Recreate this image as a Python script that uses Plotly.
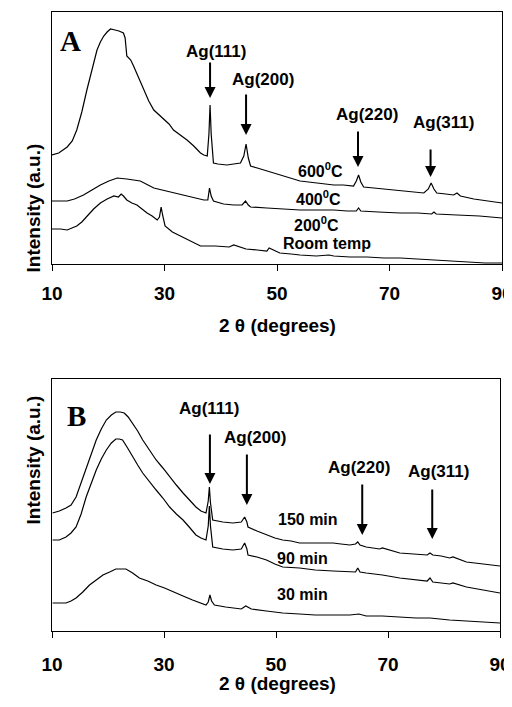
import plotly.graph_objects as go

# ---------------- Panel A data (2theta, intensity a.u.) ----------------
a600_x = [10, 11.2, 12.7, 13.6, 14.4, 15.3, 16.2, 17.1, 18.0, 18.6, 19.2, 19.8, 20.4, 21.2, 21.9, 22.7, 23.0,
          23.3, 24.0, 24.5, 25.4, 26.3, 27.2, 28.1, 29.0, 29.9, 30.8, 31.6, 32.8, 34.0, 35.2, 36.4, 37.0, 37.6,
          37.9, 38.1, 38.3, 38.7, 39.5, 41.1, 42.3, 43.5, 44.1, 44.5, 44.9, 45.3, 46.5, 48.2, 49.6, 51.2, 52.6,
          54.1, 55.6, 57.1, 58.6, 60.1, 61.8, 63.6, 64.1, 64.5, 64.9, 65.4, 67.2, 69.0, 70.5, 71.9, 74.0, 76.1,
          76.9, 77.4, 77.9, 78.4, 80.0, 81.4, 82.0, 82.6, 85.0, 87.5, 90]
a600_y = [109, 111, 117, 123, 134, 152, 174, 195, 214, 222, 228, 232, 235, 234, 233, 231, 226,
          208, 204, 198, 186, 174, 163, 154, 149, 144, 140, 134, 129, 124, 118, 111, 109, 108,
          130, 159, 130, 101, 100, 99, 100, 101, 108, 120, 106, 98, 96, 93, 91, 88, 86,
          83, 82, 81, 80, 79, 79, 78, 83, 89, 82, 77, 76, 75, 74, 73, 72, 71,
          75, 81, 75, 71, 70, 69, 71, 68, 65, 63, 61]

a400_x = [10, 12.7, 14.0, 15.6, 17.1, 18.6, 20.1, 21.6, 23.3, 25.7, 28.1, 30.4, 32.2, 34.0, 35.5, 37.0, 37.7,
          38.0, 38.3, 38.7, 40.5, 42.3, 43.8, 44.4, 44.9, 45.3, 48.2, 51.0, 54.1, 57.0, 60.1, 62.5, 64.1,
          64.5, 64.9, 68.0, 71.9, 75.0, 77.5, 77.9, 78.3, 82.0, 86.0, 90]
a400_y = [63, 63, 65, 69, 74, 79, 83, 86, 85, 83, 76, 73, 71, 68, 66, 64, 64,
          76, 68, 63, 60, 59, 59, 63, 59, 57, 56, 55, 54, 54, 54, 53, 53,
          56, 53, 52, 51, 51, 50, 52, 50, 49, 48, 46]

art_x = [10, 11.5, 12.7, 13.5, 14.4, 15.3, 16.2, 17.4, 18.6, 19.8, 21.0, 21.8, 22.3, 22.7, 23.3, 24.2, 25.1,
         26.0, 26.9, 27.8, 28.7, 29.1, 29.4, 29.7, 30.1, 31.4, 32.8, 34.6, 36.4, 39.0, 41.5, 42.3, 44.5,
         46.5, 48.2, 48.6, 50.5, 52.5, 54.1, 57.0, 59.2, 60.1, 63.0, 66.0, 69.0, 71.9, 75.0, 77.9, 81.0,
         84.0, 87.0, 90]
art_y = [35, 35, 34, 36, 38, 42, 48, 55, 61, 65, 68, 67, 70, 68, 64, 61, 59,
         55, 51, 48, 44, 47, 57, 48, 38, 32, 28, 23, 18, 18, 17, 19, 15,
         14, 13, 16, 11, 10, 9, 8, 9, 8, 7, 7, 6, 6, 5, 4, 3,
         2, 1, 1]

# ---------------- Panel B data ----------------
b150_x = [10.1, 11.3, 12.5, 13.4, 14.3, 15.2, 16.1, 17.0, 17.9, 18.8, 19.7, 20.6, 21.4, 22.2, 22.9, 23.6,
          24.4, 25.3, 26.2, 27.4, 28.6, 29.8, 31.0, 32.2, 33.4, 34.5, 35.7, 36.6, 37.5, 37.9, 38.1, 38.3,
          38.7, 40.5, 42.3, 43.8, 44.4, 44.8, 45.0, 46.6, 48.3, 49.8, 51.2, 52.7, 54.2, 57.0, 60.2, 61.6,
          63.2, 64.2, 64.6, 65.0, 66.1, 68.5, 69.0, 72.1, 75.0, 77.0, 77.5, 78.0, 79.5, 81.0, 81.6, 84.0,
          87.0, 90]
b150_y = [118, 120, 123, 126, 134, 148, 164, 178, 191, 202, 211, 216, 219, 219, 218, 214,
          208, 200, 191, 181, 171, 163, 154, 146, 138, 131, 124, 120, 118, 130, 144, 128,
          111, 109, 108, 109, 114, 109, 104, 100, 96, 93, 91, 90, 88, 88, 88, 87,
          86, 87, 89, 86, 84, 82, 83, 78, 77, 76, 78, 76, 75, 73, 74, 69,
          67, 65]

b90_x = [10.1, 11.3, 12.5, 13.4, 14.3, 15.2, 16.1, 17.0, 17.9, 18.8, 19.7, 20.6, 21.4, 22.0, 22.6, 23.5,
         24.4, 25.3, 26.2, 27.4, 28.6, 29.8, 31.0, 32.2, 33.4, 34.5, 35.7, 36.6, 37.5, 37.9, 38.1, 38.3,
         38.7, 40.5, 42.3, 43.8, 44.4, 44.8, 45.0, 46.6, 48.3, 49.8, 51.2, 54.2, 57.0, 60.2, 63.2, 64.2,
         64.6, 65.0, 66.1, 69.0, 72.1, 75.0, 77.0, 77.5, 78.0, 79.5, 81.0, 81.6, 84.0, 87.0, 90]
b90_y = [91, 91, 94, 98, 104, 117, 134, 148, 161, 172, 181, 188, 192, 192, 191, 183,
         174, 166, 158, 149, 141, 133, 124, 117, 111, 104, 96, 93, 91, 105, 125, 105,
         84, 82, 81, 82, 88, 82, 76, 74, 71, 67, 64, 63, 61, 60, 59, 59,
         63, 59, 58, 56, 53, 51, 50, 53, 49, 48, 47, 48, 44, 41, 38]

b30_x = [10.1, 12.5, 13.4, 14.3, 15.5, 16.7, 17.9, 19.1, 20.3, 21.4, 22.3, 23.2, 24.4, 25.6, 27.1, 28.6,
         30.1, 31.6, 33.4, 35.1, 36.6, 37.5, 37.9, 38.2, 38.5, 39.0, 41.0, 42.3, 43.8, 44.6, 45.0, 45.6,
         48.3, 51.2, 54.2, 57.0, 60.2, 63.2, 64.8, 66.1, 69.0, 72.1, 75.0, 77.5, 79.0, 81.0, 84.0, 87.0, 90]
b30_y = [28, 28, 30, 33, 39, 46, 51, 56, 59, 62, 62, 62, 58, 53, 50, 46,
         43, 39, 35, 31, 28, 26, 29, 36, 30, 26, 24, 23, 22, 25, 24, 22,
         20, 18, 17, 16, 16, 16, 17, 15, 15, 14, 13, 13, 12, 11, 10, 9, 8]

tick_vals = [10, 30, 50, 70, 90]
tick_text = ["10", "30", "50", "70", "90"]

# annotation labels
peaks = ["Ag(111)", "Ag(200)", "Ag(220)", "Ag(311)"]
# panel A: text position, arrow x, arrow tail, arrow head
a_text_x = [39.2, 47.5, 66.0, 79.6]
a_text_y = [212, 184, 149, 141]
a_arrow_x = [38.1, 44.5, 64.4, 77.3]
a_arrow_tail = [203, 171, 134, 116]
a_arrow_head = [166, 129, 97, 87]
# panel B
b_text_x = [38.0, 46.2, 64.8, 79.0]
b_text_y = [223, 194, 164, 160]
b_arrow_x = [38.2, 44.8, 65.4, 77.9]
b_arrow_tail = [198, 178, 148, 143]
b_arrow_head = [147, 126, 96, 92]

a_curve_labels = ["600<sup>0</sup>C", "400<sup>0</sup>C", "200<sup>0</sup>C", "Room temp"]
a_curve_lx = [57.7, 57.4, 57.1, 58.9]
a_curve_ly = [94, 66, 40, 20]
b_curve_labels = ["150 min", "90 min", "30 min"]
b_curve_lx = [55.7, 54.7, 54.7]
b_curve_ly = [112, 73, 37]

# page body has an 8px margin -> positions below are reference pixels minus 8
OFF = 8
W, H = 512, 707
FONT = "Liberation Sans, Arial, sans-serif"


def px(v):
    return (v - OFF) / W


def py(v):
    return 1 - (v - OFF) / H


fig = go.Figure()
line = dict(color="black", width=1.2)
for xs, ys in [(a600_x, a600_y), (a400_x, a400_y), (art_x, art_y)]:
    fig.add_trace(go.Scatter(x=xs, y=ys, mode="lines", line=line, xaxis="x", yaxis="y", showlegend=False,
                             hoverinfo="skip"))
for xs, ys in [(b150_x, b150_y), (b90_x, b90_y), (b30_x, b30_y)]:
    fig.add_trace(go.Scatter(x=xs, y=ys, mode="lines", line=line, xaxis="x2", yaxis="y2", showlegend=False,
                             hoverinfo="skip"))

xax = dict(range=[10, 90], tickvals=tick_vals, ticktext=tick_text, ticks="outside", ticklen=6,
           tickwidth=1.2, tickcolor="black", showline=True, linecolor="black", linewidth=1.3, mirror=True,
           showgrid=False, zeroline=False, automargin=False, ticklabeloverflow="allow",
           tickfont=dict(family=FONT, size=19, color="black", weight="bold"))
yax = dict(range=[0, 252], showticklabels=False, ticks="", showline=True, linecolor="black", linewidth=1.3,
           mirror=True, showgrid=False, zeroline=False, automargin=False)

fig.update_layout(
    template="none",
    width=W, height=H, margin=dict(l=0, r=0, t=0, b=0, pad=0, autoexpand=False),
    paper_bgcolor="white", plot_bgcolor="white",
    xaxis=dict(xax, domain=[px(52), px(502)], anchor="y", ticklabelstandoff=6),
    yaxis=dict(yax, domain=[py(264), py(12)], anchor="x"),
    xaxis2=dict(xax, domain=[px(52), px(500)], anchor="y2", ticklabelstandoff=10),
    yaxis2=dict(yax, domain=[py(631), py(379)], anchor="x2"),
)

ann = []
lab_font = dict(family=FONT, size=17, color="black", weight="bold")
cur_font = dict(family=FONT, size=16, color="black", weight="bold")
for i, p in enumerate(peaks):
    ann.append(dict(x=a_text_x[i], y=a_text_y[i], xref="x", yref="y", text=p, showarrow=False, font=lab_font))
    ann.append(dict(x=a_arrow_x[i], y=a_arrow_head[i], ax=a_arrow_x[i], ay=a_arrow_tail[i], xref="x", yref="y",
                    axref="x", ayref="y", text="", showarrow=True, arrowhead=2, arrowsize=1.1, arrowwidth=2,
                    arrowcolor="black"))
    ann.append(dict(x=b_text_x[i], y=b_text_y[i], xref="x2", yref="y2", text=p, showarrow=False, font=lab_font))
    ann.append(dict(x=b_arrow_x[i], y=b_arrow_head[i], ax=b_arrow_x[i], ay=b_arrow_tail[i], xref="x2", yref="y2",
                    axref="x2", ayref="y2", text="", showarrow=True, arrowhead=2, arrowsize=1.1, arrowwidth=2,
                    arrowcolor="black"))
for t, x, y in zip(a_curve_labels, a_curve_lx, a_curve_ly):
    ann.append(dict(x=x, y=y, xref="x", yref="y", text=t, showarrow=False, font=cur_font))
for t, x, y in zip(b_curve_labels, b_curve_lx, b_curve_ly):
    ann.append(dict(x=x, y=y, xref="x2", yref="y2", text=t, showarrow=False, font=cur_font))

serif = dict(family="Liberation Serif, Times New Roman, serif", size=29, color="black", weight="bold")
ann.append(dict(x=13.3, y=223, xref="x", yref="y", text="A", showarrow=False, font=serif))
ann.append(dict(x=14.4, y=215, xref="x2", yref="y2", text="B", showarrow=False, font=serif))

title_font = dict(family=FONT, size=19, color="black", weight="bold")
for yc in [142, 527]:
    ann.append(dict(x=px(20.5), y=py(yc), xref="paper", yref="paper", text="Intensity (a.u.)",
                    textangle=-90, showarrow=False, font=title_font))
for yc in [325, 696]:
    ann.append(dict(x=px(277), y=py(yc), xref="paper", yref="paper", text="2 θ (degrees)",
                    showarrow=False, font=title_font))

fig.update_layout(annotations=ann)
fig.write_html("out.html")
